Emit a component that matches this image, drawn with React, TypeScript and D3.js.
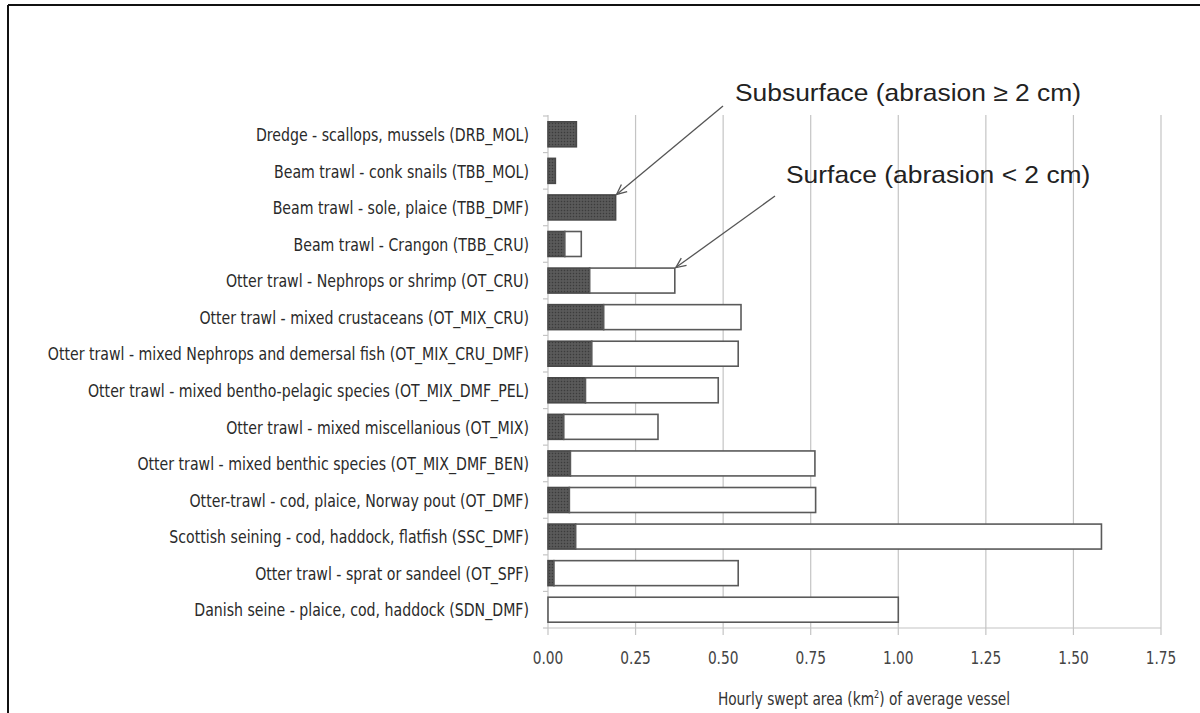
import React from 'react';
import * as d3 from 'd3';

const categories = [
  'Dredge - scallops, mussels (DRB_MOL)',
  'Beam trawl - conk snails (TBB_MOL)',
  'Beam trawl - sole, plaice (TBB_DMF)',
  'Beam trawl - Crangon (TBB_CRU)',
  'Otter trawl - Nephrops or shrimp (OT_CRU)',
  'Otter trawl - mixed crustaceans (OT_MIX_CRU)',
  'Otter trawl - mixed Nephrops and demersal fish (OT_MIX_CRU_DMF)',
  'Otter trawl - mixed bentho-pelagic species (OT_MIX_DMF_PEL)',
  'Otter trawl - mixed miscellanious (OT_MIX)',
  'Otter trawl - mixed benthic species (OT_MIX_DMF_BEN)',
  'Otter-trawl - cod, plaice, Norway pout (OT_DMF)',
  'Scottish seining - cod, haddock, flatfish (SSC_DMF)',
  'Otter trawl - sprat or sandeel (OT_SPF)',
  'Danish seine - plaice, cod, haddock (SDN_DMF)',
];

// Subsurface (abrasion >= 2 cm) hourly swept area, km2
const subsurface = [0.081, 0.021, 0.193, 0.048, 0.119, 0.159, 0.125, 0.107, 0.045, 0.064, 0.061, 0.079, 0.017, 0.0];
// Surface (abrasion < 2 cm) hourly swept area, km2
const surface = [0.0, 0.0, 0.0, 0.047, 0.243, 0.392, 0.418, 0.379, 0.269, 0.698, 0.703, 1.501, 0.526, 1.0];

const xTicks = [0, 0.25, 0.5, 0.75, 1.0, 1.25, 1.5, 1.75];
const xTickLabels = ['0.00', '0.25', '0.50', '0.75', '1.00', '1.25', '1.50', '1.75'];

const seriesKeys = ['subsurface', 'surface'];
const seriesLabels = ['Subsurface (abrasion \u2265 2 cm)', 'Surface (abrasion < 2 cm)'];

const NARROW = "'Liberation Sans Narrow', 'Arial Narrow', 'DejaVu Sans Condensed', sans-serif";
const SANS = "'Liberation Sans', Arial, Helvetica, sans-serif";
const SQ_LABEL = 0.85; // horizontal squeeze for the condensed category labels
const SQ = 0.825; // horizontal squeeze for axis text

export default function App() {
  const W = 1200;
  const H = 713;
  const plotTop = 116;
  const plotBottom = 628;

  const x = d3.scaleLinear().domain([0, 1.75]).range([548, 1161]);
  const y = d3
    .scaleBand<string>()
    .domain(categories)
    .range([plotTop, plotBottom])
    .paddingInner(0.317)
    .paddingOuter(0.1585);

  const rows = categories.map((c, i) => ({ cat: c, subsurface: subsurface[i], surface: surface[i] }));
  const stacked = d3.stack<any>().keys(seriesKeys)(rows);

  const step = y.step();
  const boundaries = d3.range(categories.length + 1).map((k) => plotTop + k * step);

  // annotation layout: text anchor & arrow start; arrow end is attached to the target bar
  const annotations = [
    { label: seriesLabels[0], tx: 735, ty: 101, sx: 723, sy: 106, cat: categories[2], layer: 0 },
    { label: seriesLabels[1], tx: 786, ty: 183, sx: 775, sy: 196, cat: categories[4], layer: 1 },
  ];

  return (
    <svg
      width={W}
      height={H}
      viewBox={`0 0 ${W} ${H}`}
      style={{ position: 'fixed', left: 0, top: 0, background: '#fff' }}
    >
      <defs>
        <pattern id="stipple" width="3" height="3" patternUnits="userSpaceOnUse">
          <rect width="3" height="3" fill="#545454" />
          <rect x="0" y="0" width="1" height="1" fill="#3c3c3c" />
          <rect x="1.5" y="1.5" width="1" height="1" fill="#6a6a6a" />
        </pattern>
        <marker
          id="arrow"
          viewBox="0 0 12 12"
          refX="11"
          refY="6"
          markerWidth="12"
          markerHeight="12"
          markerUnits="userSpaceOnUse"
          orient="auto"
        >
          <path d="M1,1.5 L11,6 L1,10.5" fill="none" stroke="#555" strokeWidth="1.3" />
        </marker>
      </defs>

      {/* frame */}
      <line x1={8} y1={5} x2={W} y2={5} stroke="#111" strokeWidth={2} />
      <line x1={8} y1={5} x2={8} y2={H} stroke="#111" strokeWidth={2} />

      {/* gridlines + ticks */}
      {xTicks.map((t) => (
        <line key={'g' + t} x1={x(t)} x2={x(t)} y1={plotTop - 1} y2={plotBottom + 7} stroke="#c4c4c4" strokeWidth={1.2} />
      ))}
      <line x1={x(0)} x2={x(1.75)} y1={plotBottom} y2={plotBottom} stroke="#c4c4c4" strokeWidth={1.2} />
      {boundaries.map((b, i) => (
        <line key={'yt' + i} x1={x(0) - 5} x2={x(0)} y1={b} y2={b} stroke="#c4c4c4" strokeWidth={1.2} />
      ))}

      {/* bars */}
      {stacked.map((layer, li) => (
        <g key={layer.key}>
          {layer.map((d: any, i: number) => {
            const w = x(d[1]) - x(d[0]);
            if (w <= 0) return null;
            return (
              <rect
                key={i}
                x={x(d[0])}
                y={y(categories[i])}
                width={w}
                height={y.bandwidth()}
                fill={li === 0 ? 'url(#stipple)' : '#fff'}
                stroke={li === 0 ? '#484848' : '#5a5a5a'}
                strokeWidth={1.6}
              />
            );
          })}
        </g>
      ))}

      {/* category labels */}
      {categories.map((c) => (
        <text
          key={c}
          transform={`translate(529,${(y(c) as number) + y.bandwidth() / 2}) scale(${SQ_LABEL},1)`}
          dy="0.36em"
          textAnchor="end"
          fontFamily={NARROW}
          fontSize={18.5}
          fill="#2a2a2a"
        >
          {c}
        </text>
      ))}

      {/* x tick labels */}
      {xTicks.map((t, i) => (
        <text
          key={'xl' + t}
          transform={`translate(${x(t)},664) scale(${SQ},1)`}
          textAnchor="middle"
          fontFamily={NARROW}
          fontSize={18.5}
          fill="#444"
        >
          {xTickLabels[i]}
        </text>
      ))}

      {/* x axis title */}
      <text
        transform={`translate(864,705) scale(${SQ},1)`}
        textAnchor="middle"
        fontFamily={NARROW}
        fontSize={18.5}
        fill="#333"
      >
        Hourly swept area (km
        <tspan fontSize={11} dy={-7}>2</tspan>
        <tspan dy={7}>) of average vessel</tspan>
      </text>

      {/* annotations */}
      {annotations.map((a) => {
        const i = categories.indexOf(a.cat);
        const d = stacked[a.layer][i] as any;
        const ex = x(d[1]) + 1;
        const ey = (y(a.cat) as number) - 0.5;
        return (
          <g key={a.label}>
            <line x1={a.sx} y1={a.sy} x2={ex} y2={ey} stroke="#555" strokeWidth={1.3} markerEnd="url(#arrow)" />
            <text
              transform={`translate(${a.tx},${a.ty}) scale(1.1,1)`}
              fontFamily={SANS}
              fontSize={24}
              fill="#222"
            >
              {a.label}
            </text>
          </g>
        );
      })}
    </svg>
  );
}
